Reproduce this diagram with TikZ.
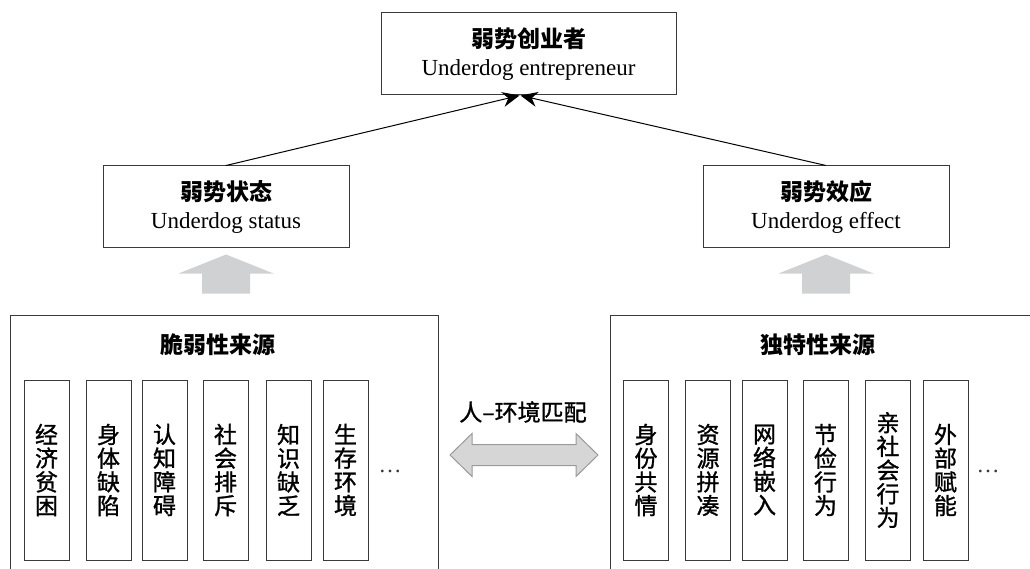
\documentclass[tikz,border=0pt]{standalone}
\usepackage{fontspec}
\setmainfont{Liberation Serif}
\newfontfamily\cjk{Noto Sans CJK SC}
\newfontfamily\cjkmid[FakeBold=1.2]{Noto Sans CJK SC}
\usetikzlibrary{arrows.meta}
\definecolor{boxline}{HTML}{3A3A3A}
\definecolor{fatgray}{HTML}{D0D1D3}
\definecolor{duofill}{HTML}{D6D6D6}
\definecolor{duoline}{HTML}{9A9A9A}

\begin{document}
\begin{tikzpicture}[x=1pt,y=-1pt]
 \tikzset{
  head/.style={draw=boxline,line width=1pt,minimum width=246pt,minimum height=82pt,inner sep=0pt,align=center,font=\fontsize{23}{28}\selectfont},
  frame/.style={draw=boxline,line width=1pt,minimum height=300pt,inner sep=0pt},
  item/.style={draw=boxline,line width=1pt,minimum width=45pt,minimum height=180pt,inner sep=0pt,align=center,font=\cjkmid\fontsize{23}{23.7}\selectfont},
  title/.style={font=\cjk\bfseries\fontsize{23}{28}\selectfont,inner sep=0pt},
  arrow/.style={line width=1pt,-{Stealth[length=17pt,width=15pt]}},
  fat/.style={fill=fatgray}
 }
 \clip (0,0) rectangle (1030,569);
 \node[head,minimum width=295pt] (top) at (528.5,54) {{\cjk\bfseries 弱势创业者}\\Underdog entrepreneur};
 \node[head] (status) at (226,207) {{\cjk\bfseries 弱势状态}\\Underdog status};
 \node[head] (effect) at (826,207) {{\cjk\bfseries 弱势效应}\\Underdog effect};

 \draw[arrow] (status.north) -- ([xshift=-9pt]top.south);
 \draw[arrow] (effect.north) -- ([xshift=-8pt]top.south);

 % sources
 \node[frame,minimum width=428pt] (weak) at (224,465) {};
 \node[frame,minimum width=435pt] (unique) at (827.5,465) {};
 \node[title] (weakt) at (218,345) {脆弱性来源};
 \node[title] (uniquet) at (818,345) {独特性来源};

 \foreach \x/\t [count=\i] in {46.5/{经\\济\\贫\\困},108.5/{身\\体\\缺\\陷},164.5/{认\\知\\障\\碍},
   225.5/{社\\会\\排\\斥},288.5/{知\\识\\缺\\乏},345.5/{生\\存\\环\\境}}
   \node[item] (v\i) at (\x,470) {\t};
 \foreach \x/\t [count=\i] in {646/{身\\份\\共\\情},708/{资\\源\\拼\\凑},764.5/{网\\络\\嵌\\入},
   825.5/{节\\俭\\行\\为},888/{亲\\社\\会\\行\\为},945.5/{外\\部\\赋\\能}}
   \node[item] (u\i) at (\x,470) {\t};
 \node[text=boxline,font=\fontsize{23}{28}\selectfont] (vdots) at (390,471) {…};
 \node[text=boxline,font=\fontsize{23}{28}\selectfont] (udots) at (988,471) {…};

 % fat arrows
 \fill[fat,shift={(status.south)}] (-24,45) -- (-24,25) -- (-47.5,25) -- (0,6) -- (47.5,25) -- (24,25) -- (24,45) -- cycle;
 \fill[fat,shift={(effect.south)}] (-24,45) -- (-24,25) -- (-47.5,25) -- (0,6) -- (47.5,25) -- (24,25) -- (24,45) -- cycle;

 \node[font=\cjkmid\fontsize{23}{28}\selectfont] (fit) at (523,412) {人–环境匹配};
 \coordinate (mid) at (524,455);
 \draw[duoline,fill=duofill,line width=1pt,shift={(mid)}] (-74,0) -- (-52,-21.5) -- (-52,-10.5) -- (52,-10.5) -- (52,-21.5)
   -- (74,0) -- (52,21.5) -- (52,10.5) -- (-52,10.5) -- (-52,21.5) -- cycle;
\end{tikzpicture}
\end{document}
